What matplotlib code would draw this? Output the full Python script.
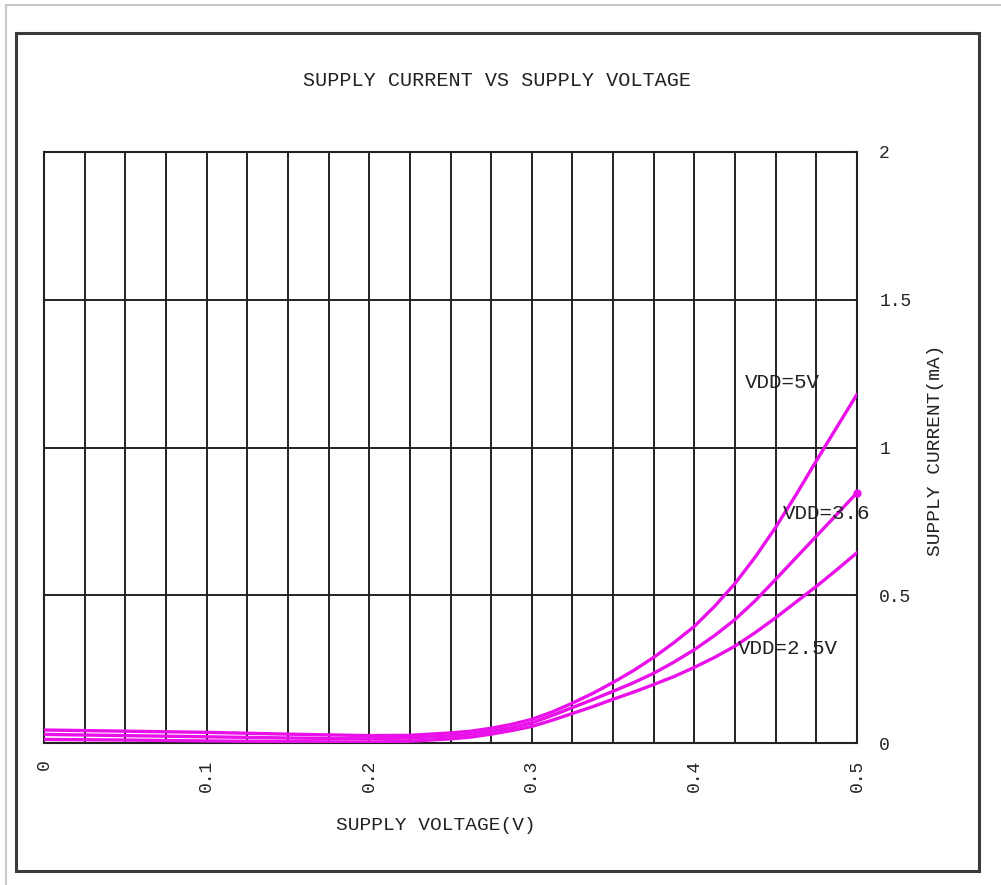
import numpy as np
import matplotlib
matplotlib.use("Agg")
import matplotlib.pyplot as plt
from matplotlib.lines import Line2D
from matplotlib.patches import Rectangle

# supply voltage (V) sample points
volt = [0.0, 0.05, 0.1, 0.15, 0.2, 0.225, 0.25, 0.2625, 0.275, 0.2875,
        0.3, 0.3125, 0.325, 0.3375, 0.35, 0.3625, 0.375, 0.3875, 0.4,
        0.4125, 0.425, 0.4375, 0.45, 0.4625, 0.475, 0.4875, 0.5]
# supply current (mA)
i_5v = [0.044, 0.040, 0.036, 0.030, 0.025, 0.026, 0.034, 0.040, 0.050,
        0.063, 0.080, 0.105, 0.135, 0.168, 0.205, 0.245, 0.290, 0.340,
        0.395, 0.463, 0.540, 0.630, 0.730, 0.840, 0.955, 1.068, 1.180]
i_36v = [0.029, 0.025, 0.021, 0.017, 0.014, 0.017, 0.024, 0.030, 0.040,
         0.052, 0.068, 0.093, 0.120, 0.147, 0.175, 0.204, 0.236, 0.274,
         0.316, 0.364, 0.418, 0.482, 0.554, 0.627, 0.700, 0.773, 0.847]
i_25v = [0.012, 0.010, 0.007, 0.005, 0.003, 0.006, 0.014, 0.020, 0.030,
         0.042, 0.056, 0.077, 0.100, 0.123, 0.148, 0.172, 0.198, 0.225,
         0.256, 0.290, 0.328, 0.374, 0.424, 0.477, 0.530, 0.586, 0.644]

x_ticks = [0.0, 0.1, 0.2, 0.3, 0.4, 0.5]
x_ticklabels = ["0", "0.1", "0.2", "0.3", "0.4", "0.5"]
y_ticks = [0, 0.5, 1, 1.5, 2]
y_ticklabels = ["0", "0.5", "1", "1.5", "2"]

FONT = "Liberation Mono"
MAG = "#ea10ea"
GRID = "#222222"


def main():
    fig = plt.figure(figsize=(10.01, 8.85), dpi=100)
    W, H = 1001.0, 885.0

    # outer light frame (top and left edges only visible)
    fig.add_artist(Line2D([6 / W, 1.0], [1 - 5 / H, 1 - 5 / H],
                          transform=fig.transFigure, color="#c8c8c8", lw=1.5))
    fig.add_artist(Line2D([6 / W, 6 / W], [0.0, 1 - 5 / H],
                          transform=fig.transFigure, color="#c8c8c8", lw=1.5))
    # inner dark frame
    fig.add_artist(Rectangle((16 / W, 1 - 871 / H), (979 - 16) / W, (871 - 33) / H,
                             transform=fig.transFigure, fill=False,
                             edgecolor="#3a3a3a", lw=2.2))

    ax = fig.add_axes([44 / W, 1 - 743 / H, (857 - 44) / W, (743 - 152) / H])
    ax.set_xlim(0, 0.5)
    ax.set_ylim(0, 2)

    for s in ax.spines.values():
        s.set_color(GRID)
        s.set_linewidth(1.5)

    # grid: 20 vertical divisions, horizontal every 0.5 mA
    for xv in np.arange(0, 0.5001, 0.025):
        ax.axvline(xv, color=GRID, lw=1.4, zorder=1)
    for yv in y_ticks:
        ax.axhline(yv, color=GRID, lw=1.4, zorder=1)

    for cur in (i_5v, i_36v, i_25v):
        ax.plot(volt, cur, color=MAG, lw=2.4, zorder=3,
                solid_capstyle="round", solid_joinstyle="round")
    # little blob at the end of the 3.6V trace
    ax.plot(volt[-1], i_36v[-1], "o", color=MAG, ms=5, zorder=3, clip_on=False)

    ax.set_xticks(x_ticks)
    ax.set_xticklabels(x_ticklabels, rotation=90, fontfamily=FONT, fontsize=13,
                       va="top")
    ax.yaxis.tick_right()
    ax.set_yticks(y_ticks)
    ax.set_yticklabels(y_ticklabels, fontfamily=FONT, fontsize=13)
    ax.tick_params(length=0, pad=16, colors="#222222")
    ax.tick_params(axis="x", pad=12)

    txt = dict(fontfamily=FONT, fontsize=15, color="#222222")
    ax.text(0.431, 1.22, "VDD=5V", ha="left", va="center", **txt)
    ax.text(0.4545, 0.775, "VDD=3.6", ha="left", va="center", **txt)
    ax.text(0.427, 0.32, "VDD=2.5V", ha="left", va="center", **txt)

    fig.text(497 / W, 1 - 80 / H, "SUPPLY CURRENT VS SUPPLY VOLTAGE",
             ha="center", va="center", fontfamily=FONT, fontsize=14.5,
             color="#222222")
    fig.text(436 / W, 1 - 826 / H, "SUPPLY VOLTAGE(V)", ha="center",
             va="center", fontfamily=FONT, fontsize=14, color="#222222")
    fig.text(935 / W, 1 - 450 / H, "SUPPLY CURRENT(mA)", ha="center",
             va="center", rotation=90, fontfamily=FONT, fontsize=14,
             color="#222222")

    fig.savefig("out.png", dpi=100, facecolor="white")


if __name__ == "__main__":
    main()
